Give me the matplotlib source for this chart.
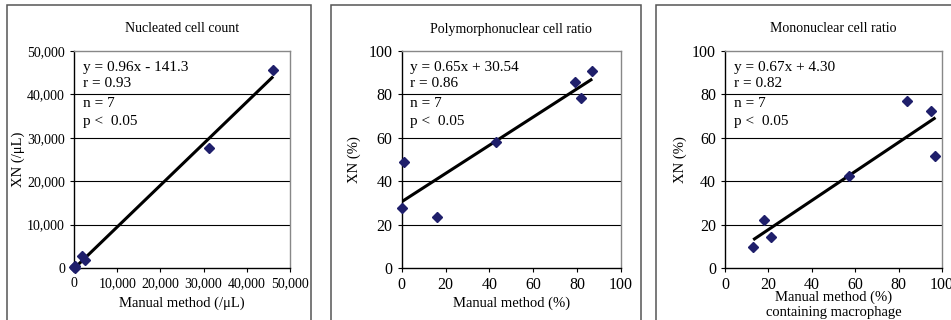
import numpy as np
import matplotlib
matplotlib.use("Agg")
import matplotlib.pyplot as plt
from matplotlib.patches import Rectangle
from matplotlib.ticker import FuncFormatter

plt.rcParams['font.family'] = ['Liberation Serif', 'DejaVu Serif']

# ---- data ----
titles = ["Nucleated cell count", "Polymorphonuclear cell ratio", "Mononuclear cell ratio"]
xlabels = ["Manual method (/\u03bcL)", "Manual method (%)", "Manual method (%)\ncontaining macrophage"]
ylabels = ["XN (/\u03bcL)", "XN (%)", "XN (%)"]

nc_manual = [100, 200, 300, 1900, 2500, 31200, 46100]
nc_xn = [300, 100, 500, 2800, 1800, 27600, 45600]

pmn_manual = [0.3, 1, 16, 43, 79, 82, 87]
pmn_xn = [27.5, 49, 23.5, 58, 85.7, 78.5, 91]

mn_manual = [13, 18, 21, 57, 84, 95, 97]
mn_xn = [9.5, 22, 14.5, 42.5, 77, 72.5, 51.5]

slopes = [0.96, 0.65, 0.67]
intercepts = [-141.3, 30.54, 4.30]
stats = [["y = 0.96x - 141.3", "r = 0.93", "n = 7", "p <  0.05"],
         ["y = 0.65x + 30.54", "r = 0.86", "n = 7", "p <  0.05"],
         ["y = 0.67x + 4.30", "r = 0.82", "n = 7", "p <  0.05"]]

limits = [50000, 100, 100]
steps = [10000, 20, 20]

xs = [nc_manual, pmn_manual, mn_manual]
ys = [nc_xn, pmn_xn, mn_xn]

# ---- layout (pixels -> figure fraction) ----
W, H = 951, 320
fig = plt.figure(figsize=(W / 100, H / 100), dpi=100)

ax_left = [74, 401.7, 725]
ax_width = [216, 219, 217]
ax_top, ax_bot = 51, 268
ylab_x = [18, 354, 680]
frames = [(7, 311), (331, 641), (656, 960)]

for fl, fr in frames:
    fig.patches.append(Rectangle((fl / W, -0.1), (fr - fl) / W, (H - 5) / H + 0.1,
                                 transform=fig.transFigure, fill=False,
                                 edgecolor='#555555', lw=1.1, clip_on=False))

for i in range(3):
    ax = fig.add_axes([ax_left[i] / W, (H - ax_bot) / H, ax_width[i] / W, (ax_bot - ax_top) / H])
    lim = limits[i]
    ax.set_xlim(0, lim)
    ax.set_ylim(0, lim)
    ticks = np.arange(0, lim + 1, steps[i])
    ax.set_xticks(ticks)
    ax.set_yticks(ticks)

    if i == 0:
        fmt = FuncFormatter(lambda v, p: f"{int(v):,}")
        ax.xaxis.set_major_formatter(fmt)
        ax.yaxis.set_major_formatter(fmt)
        tsize = 10
    else:
        tsize = 11.5
    ax.tick_params(direction='out', length=3, width=0.8, labelsize=tsize, color='black')

    for s in ['left', 'bottom']:
        ax.spines[s].set_color('black')
        ax.spines[s].set_linewidth(1.0)
    for s in ['top', 'right']:
        ax.spines[s].set_color('#888888')
        ax.spines[s].set_linewidth(1.0)

    ax.yaxis.grid(True, color='black', lw=0.8)
    ax.set_axisbelow(True)
    gl = ax.get_ygridlines()
    gl[0].set_visible(False)
    gl[-1].set_visible(False)

    x = np.array(xs[i])
    y = np.array(ys[i])
    x0 = 0 if i < 2 else x.min()
    fit_x = np.array([x0, x.max()])
    ax.plot(fit_x, slopes[i] * fit_x + intercepts[i], color='black', lw=2.2, zorder=3,
            solid_capstyle='butt')
    ax.plot(x, y, linestyle='none', marker='D', markersize=5.5, color='#1f1f6b',
            zorder=4, clip_on=False)

    ypos = [0.926, 0.848, 0.760, 0.677]
    for t, yy in zip(stats[i], ypos):
        ax.text(0.04, yy, t, transform=ax.transAxes, fontsize=11, va='center', ha='left')

    ax.set_title(titles[i], fontsize=10, pad=0, y=(ax_bot - 29) / (ax_bot - ax_top), va='center')
    ax.set_xlabel(xlabels[i], fontsize=10.5, linespacing=1.15)
    ax.xaxis.label.set_va('center')
    yc = -(303 - ax_bot) / (ax_bot - ax_top) if i < 2 else -(305 - ax_bot) / (ax_bot - ax_top)
    ax.xaxis.set_label_coords(0.5, yc)
    ax.set_ylabel(ylabels[i], fontsize=10.5)
    ax.yaxis.label.set_va('center')
    ax.yaxis.set_label_coords((ylab_x[i] - ax_left[i]) / ax_width[i], 0.5)

fig.savefig("out.png", dpi=100)
